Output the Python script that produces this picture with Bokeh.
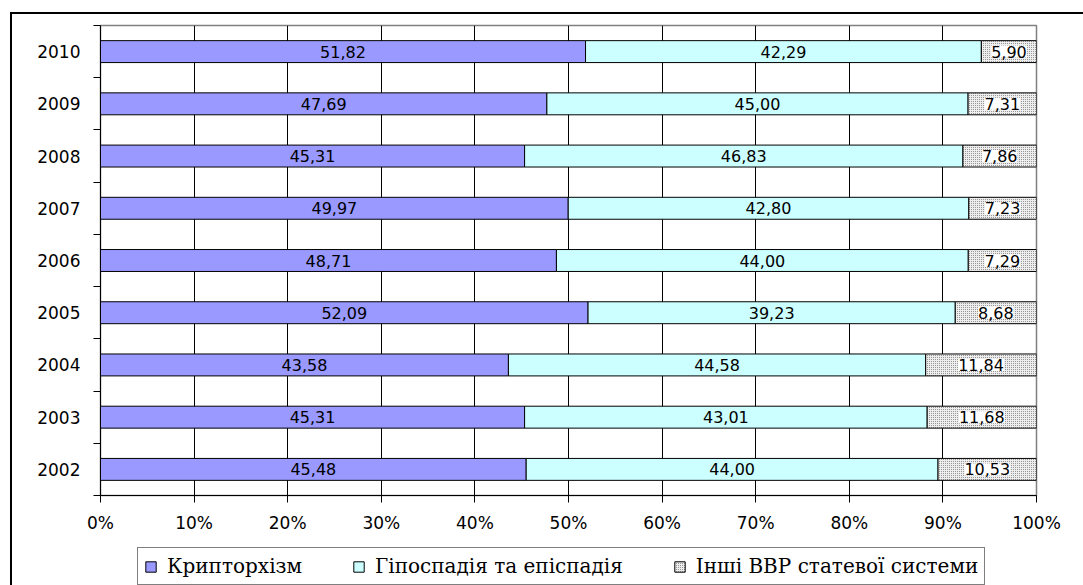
from bokeh.plotting import figure
from bokeh.layouts import column
from bokeh.models import (ColumnDataSource, FixedTicker, PrintfTickFormatter, LabelSet,
                          Legend, LegendItem, Range1d)
from bokeh.core.properties import value
from bokeh.embed import file_html
from bokeh.resources import INLINE

years = ["2002", "2003", "2004", "2005", "2006", "2007", "2008", "2009", "2010"]
kryptorkhizm = [45.48, 45.31, 43.58, 52.09, 48.71, 49.97, 45.31, 47.69, 51.82]
hipospadiya = [44.00, 43.01, 44.58, 39.23, 44.00, 42.80, 46.83, 45.00, 42.29]
inshi = [10.53, 11.68, 11.84, 8.68, 7.29, 7.23, 7.86, 7.31, 5.90]
series_names = ["Крипторхізм", "Гіпоспадія та епіспадія", "Інші ВВР статевої системи"]
x_ticks = [0, 10, 20, 30, 40, 50, 60, 70, 80, 90, 100]

def fmt(v):
    return f"{v:.2f}".replace(".", ",")

ypos = list(range(len(years)))
end1 = kryptorkhizm
end2 = [a + b for a, b in zip(kryptorkhizm, hipospadiya)]
end3 = [a + b + c for a, b, c in zip(kryptorkhizm, hipospadiya, inshi)]

src = ColumnDataSource(dict(
    y=ypos,
    s0=[0] * len(years), e1=end1, e2=end2, e3=end3,
    m1=[e / 2 for e in end1],
    m2=[(a + b) / 2 for a, b in zip(end1, end2)],
    m3=[(a + b) / 2 for a, b in zip(end2, end3)],
    l1=[fmt(v) for v in kryptorkhizm],
    l2=[fmt(v) for v in hipospadiya],
    l3=[fmt(v) for v in inshi],
))

styles = [
    dict(fill_color="#9999FF", line_color="black", line_width=1),
    dict(fill_color="#CCFFFF", line_color="black", line_width=1),
    dict(fill_color="#eeeeee", line_color="black", line_width=1,
         hatch_pattern="dot", hatch_color="#7a7a7a", hatch_scale=2, hatch_weight=1),
]
segments = [("s0", "e1"), ("e1", "e2"), ("e2", "e3")]

p = figure(width=1083, height=540, output_backend="svg", toolbar_location=None,
           x_range=Range1d(0, 100), y_range=Range1d(-0.5, len(years) - 0.5),
           min_border_left=100, min_border_right=47, min_border_top=25, min_border_bottom=45)
p.background_fill_color = "white"
p.border_fill_alpha = 0
p.outline_line_color = "#808080"
p.outline_line_width = 1.5

BH = 0.42
for (lcol, rcol), st in zip(segments, styles):
    p.hbar(y="y", left=lcol, right=rcol, height=BH, source=src, **st)

lab_font = "DejaVu Sans"
for xcol, tcol, bg in [("m1", "l1", None), ("m2", "l2", None), ("m3", "l3", "white")]:
    ls = LabelSet(x=xcol, y="y", text=tcol, source=src, text_align="center",
                  text_baseline="middle", text_font=value(lab_font),
                  text_font_size=value("16px"), text_color="black",
                  background_fill_color=bg)
    p.add_layout(ls)

# x axis
p.xaxis.ticker = FixedTicker(ticks=x_ticks)
p.xaxis.formatter = PrintfTickFormatter(format="%d%%")
p.xaxis.major_tick_out = 7
p.xaxis.major_tick_in = 0
p.xaxis.minor_tick_line_color = None
p.xaxis.axis_line_color = "black"
p.xaxis.major_tick_line_color = "black"
p.xaxis.major_label_text_font = lab_font
p.xaxis.major_label_text_font_size = "17px"
p.xaxis.major_label_text_color = "black"
p.xaxis.major_label_standoff = 10

# y axis
p.yaxis.ticker = FixedTicker(ticks=ypos, minor_ticks=[i - 0.5 for i in range(len(years) + 1)])
p.yaxis.major_label_overrides = {i: y for i, y in enumerate(years)}
p.yaxis.major_tick_out = 0
p.yaxis.major_tick_in = 0
p.yaxis.minor_tick_out = 7
p.yaxis.minor_tick_in = 0
p.yaxis.minor_tick_line_color = "black"
p.yaxis.axis_line_color = "black"
p.yaxis.major_label_text_font = lab_font
p.yaxis.major_label_text_font_size = "17px"
p.yaxis.major_label_text_color = "black"
p.yaxis.major_label_standoff = 13

p.xgrid.grid_line_color = "black"
p.xgrid.grid_line_width = 1
p.ygrid.grid_line_color = None

# legend strip below the chart (its own bars lie outside its visible range)
lf = figure(width=1083, height=45, output_backend="svg", toolbar_location=None,
            x_range=Range1d(0, 100), y_range=Range1d(100, 101),
            x_axis_type=None, y_axis_type=None, min_border=0)
lf.outline_line_color = None
lf.background_fill_alpha = 0
lf.border_fill_alpha = 0
lf.xgrid.visible = False
lf.ygrid.visible = False
dummies = [lf.hbar(y="y", left=lcol, right=rcol, height=BH, source=src, **st)
           for (lcol, rcol), st in zip(segments, styles)]
legend = Legend(items=[LegendItem(label=n, renderers=[r]) for n, r in zip(series_names, dummies)],
                orientation="horizontal", location=(37, 0),
                label_text_font="DejaVu Serif", label_text_font_size="20px",
                label_text_color="black", glyph_width=13, glyph_height=13,
                label_standoff=10, spacing=50, padding=6, margin=0,
                border_line_color="black", border_line_width=1.5,
                background_fill_color="white", background_fill_alpha=1)
lf.add_layout(legend, "center")

page = column(p, lf, spacing=0)
page.styles = {
    "background": "linear-gradient(#000, #000) 10px 12px / 2px 100% no-repeat, "
                  "linear-gradient(#000, #000) 10px 12px / 100% 2px no-repeat, #fff"
}

open("out.html", "w").write(file_html(page, INLINE))
